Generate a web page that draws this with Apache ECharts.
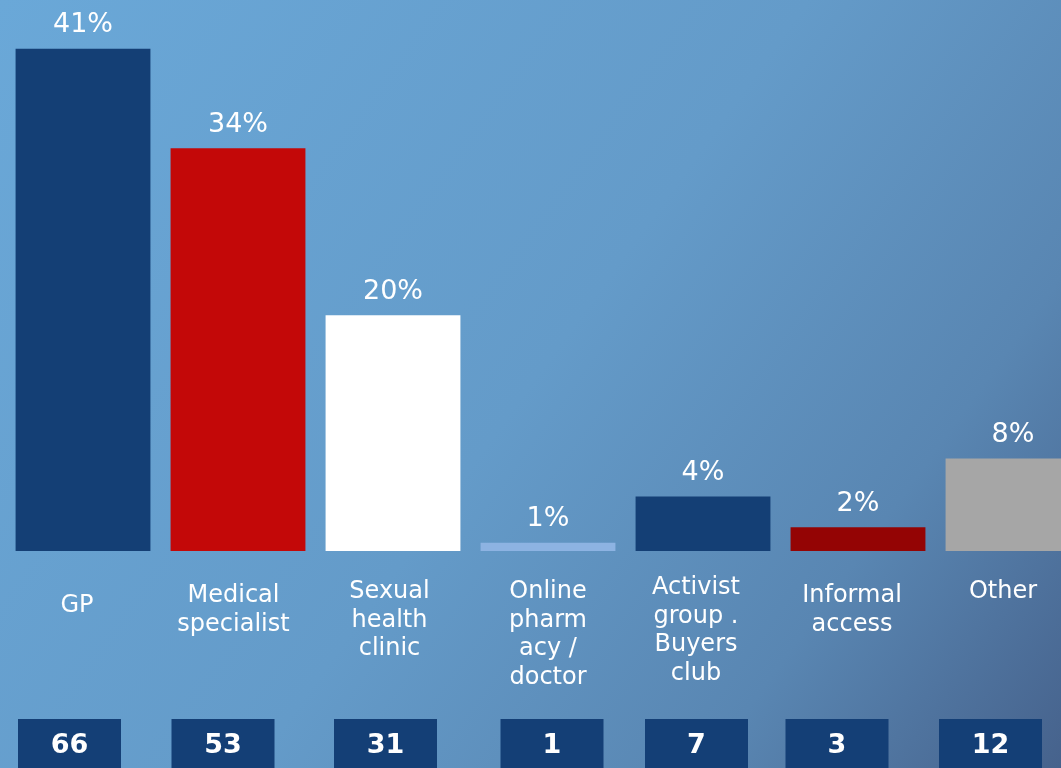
<!DOCTYPE html>
<html>
<head>
<meta charset="utf-8">
<script src="https://cdn.jsdelivr.net/npm/echarts@6/dist/echarts.min.js"></script>
<style>
  html, body { margin: 0; padding: 0; }
  #chart { width: 1061px; height: 768px; }
</style>
</head>
<body>
<div id="chart"></div>
<script>
// 数据
var categories = ['GP', 'Medical\nspecialist', 'Sexual\nhealth\nclinic', 'Online\npharm\nacy /\ndoctor',
    'Activist\ngroup .\nBuyers\nclub', 'Informal\naccess', 'Other'];
var shares = [42.4, 34.0, 19.9, 0.7, 4.6, 2.0, 7.8];
var shareLabels = ['41%', '34%', '20%', '1%', '4%', '2%', '8%'];
var counts = ['66', '53', '31', '1', '7', '3', '12'];

var barColors = ['#143f75', '#c30808', '#ffffff', '#8db3e2', '#143f75', '#940404', '#a6a6a6'];
// 标签微调 [上, 右]
var catPad = [[18, 12], [8, 9], [4, 7], [4, 0], [0, 14], [8, 12], [4, 20]];
var boxShift = [0, 0, 9, 22, 13, 0, 0];

var chart = echarts.init(document.getElementById('chart'));

var option = {
    backgroundColor: {
        type: 'linear', x: 0, y: 0, x2: 1, y2: 1,
        colorStops: [
            { offset: 0, color: '#6aa8d8' },
            { offset: 0.5, color: '#649bc9' },
            { offset: 0.78, color: '#5986b2' },
            { offset: 1, color: '#46628c' }
        ]
    },
    textStyle: { fontFamily: 'DejaVu Sans' },
    grid: [
        { left: 5.5, width: 1085, top: 18, bottom: 217, outerBoundsMode: 'none', containLabel: false },
        { left: -7.25, width: 1074.5, top: 712, bottom: 52, outerBoundsMode: 'none', containLabel: false }
    ],
    xAxis: [{
        type: 'category',
        gridIndex: 0,
        data: categories.map(function (c, i) {
            return { value: c, textStyle: { padding: [catPad[i][0], catPad[i][1], 0, 0] } };
        }),
        axisLine: { show: false },
        axisTick: { show: false },
        axisLabel: {
            interval: 0,
            margin: 23,
            color: '#ffffff',
            fontSize: 24,
            lineHeight: 28.5,
            verticalAlign: 'top',
            hideOverlap: false,
            fontFamily: 'DejaVu Sans'
        }
    }, {
        type: 'category',
        gridIndex: 1,
        data: counts.map(function (c, i) {
            return { value: c, textStyle: { padding: [0, 0, 0, boxShift[i] * 2] } };
        }),
        axisLine: { show: false },
        axisTick: { show: false },
        axisLabel: {
            interval: 0,
            margin: 3,
            verticalAlign: 'top',
            formatter: function (v) { return '{box|' + v + '}'; },
            rich: {
                box: {
                    width: 103,
                    height: 53,
                    lineHeight: 53,
                    align: 'center',
                    backgroundColor: '#143f76',
                    color: '#ffffff',
                    fontSize: 27,
                    fontWeight: 'bold',
                    fontFamily: 'DejaVu Sans'
                }
            }
        }
    }],
    yAxis: [
        { type: 'value', gridIndex: 0, min: 0, max: 45, show: false },
        { type: 'value', gridIndex: 1, show: false }
    ],
    series: [{
        type: 'bar',
        xAxisIndex: 0,
        yAxisIndex: 0,
        barCategoryGap: '13%',
        data: shares.map(function (v, i) {
            return { value: v, itemStyle: { color: barColors[i] } };
        }),
        label: {
            show: true,
            position: 'top',
            distance: 10,
            color: '#ffffff',
            fontSize: 27,
            fontFamily: 'DejaVu Sans',
            formatter: function (p) { return shareLabels[p.dataIndex]; }
        },
        animation: false
    }],
    animation: false
};
chart.setOption(option);
</script>
</body>
</html>
